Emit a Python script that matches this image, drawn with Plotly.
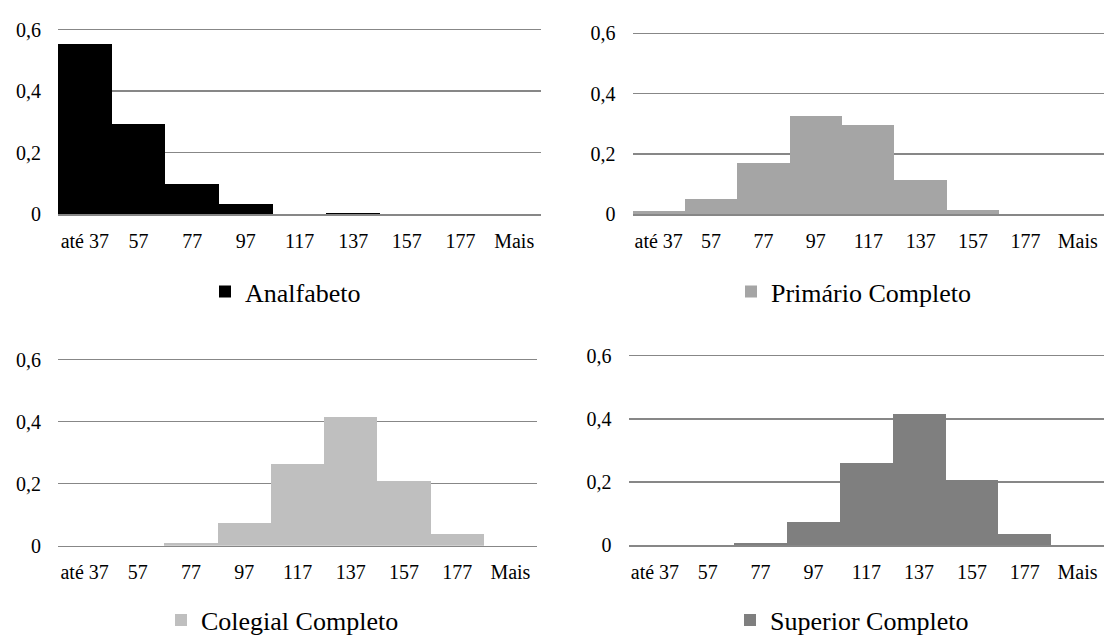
import plotly.graph_objects as go

categories = ["até 37", "57", "77", "97", "117", "137", "157", "177", "Mais"]

analfabeto = [0.553, 0.292, 0.098, 0.034, 0.0, 0.003, 0.0, 0.0, 0.0]
primario = [0.012, 0.051, 0.169, 0.326, 0.296, 0.114, 0.015, 0.0, 0.0]
colegial = [0.0, 0.0, 0.010, 0.072, 0.263, 0.414, 0.207, 0.037, 0.0]
superior = [0.0, 0.0, 0.008, 0.073, 0.262, 0.414, 0.206, 0.036, 0.0]

series_names = ["Analfabeto", "Primário Completo", "Colegial Completo", "Superior Completo"]
series_values = [analfabeto, primario, colegial, superior]
series_colors = ["#000000", "#A5A5A5", "#BFBFBF", "#7F7F7F"]

y_ticks = [0, 0.2, 0.4, 0.6]
y_ticktext = ["0", "0,2", "0,4", "0,6"]

W, H = 1104, 644
# plot areas in pixels: (left, right, top gridline, bottom)
boxes = [
    (58, 541, 23.3, 213.3),
    (632.5, 1104, 27.3, 213.5),
    (58, 537, 363.3, 555),
    (628.5, 1104, 359.3, 554.7),
]
# legend left x (px) and centre y (px)
legend_pos = [(205, 293.3), (731, 293.3), (161, 631.7), (730, 631.7)]

YMAX = 0.6
YPAD = 0.012  # headroom so the 0,6 gridline is drawn

FONT = "Liberation Serif"
GRID = "#878787"

fig = go.Figure()
layout = dict(
    width=W, height=H,
    margin=dict(l=0, r=0, t=0, b=0),
    paper_bgcolor="white", plot_bgcolor="white",
    font=dict(family=FONT, size=20, color="black"),
    bargap=0,
)

for i, (name, vals, col) in enumerate(zip(series_names, series_values, series_colors)):
    n = "" if i == 0 else str(i + 1)
    leg = "legend" if i == 0 else f"legend{i + 1}"
    fig.add_trace(go.Bar(
        x=categories, y=vals, name=name, marker=dict(color=col, line=dict(width=0)),
        xaxis=f"x{n}", yaxis=f"y{n}", legend=leg, showlegend=True,
    ))
    l, r, t, b = boxes[i]
    t_ext = t - (b - t) * YPAD / YMAX
    layout[f"xaxis{n}"] = dict(
        domain=[l / W, r / W], anchor=f"y{n}", type="category",
        categoryorder="array", categoryarray=categories,
        showgrid=False, showline=True, linecolor=GRID, linewidth=1.5,
        ticks="", ticklabelstandoff=8, tickfont=dict(size=20, family=FONT),
        fixedrange=True,
    )
    layout[f"yaxis{n}"] = dict(
        domain=[1 - b / H, 1 - t_ext / H], anchor=f"x{n}", range=[0, YMAX + YPAD],
        tickvals=y_ticks, ticktext=y_ticktext, showgrid=True,
        gridcolor=GRID, gridwidth=1.5, zeroline=False, showline=False,
        ticks="", ticklabelstandoff=16, tickfont=dict(size=20, family=FONT),
        fixedrange=True,
    )
    lx, ly = legend_pos[i]
    layout[leg] = dict(
        x=lx / W, y=1 - ly / H, xanchor="left", yanchor="middle",
        orientation="h", bgcolor="rgba(0,0,0,0)",
        font=dict(size=26, family=FONT, color="black"),
    )

fig.update_layout(**layout)
fig.write_html(
    "out.html",
    config={"displayModeBar": False, "staticPlot": True},
    post_script="document.body.style.margin='0px';document.body.style.overflow='hidden';",
)
